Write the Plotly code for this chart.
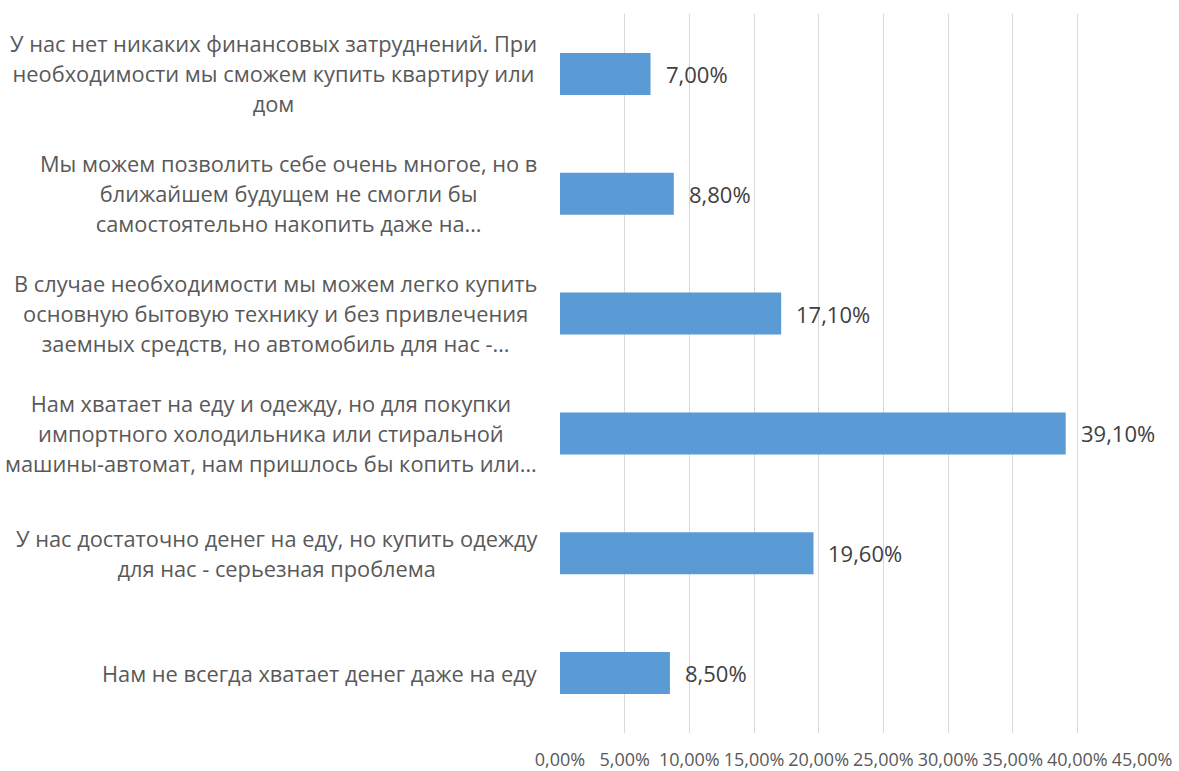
import plotly.graph_objects as go

categories = [
    "У нас нет никаких финансовых затруднений. При<br>необходимости мы сможем купить квартиру или<br>дом",
    "Мы можем позволить себе очень многое, но в<br>ближайшем будущем не смогли бы<br>самостоятельно накопить даже на…",
    "В случае необходимости мы можем легко купить<br>основную бытовую технику и без привлечения<br>заемных средств, но автомобиль для нас -…",
    "Нам хватает на еду и одежду, но для покупки<br>импортного холодильника или стиральной<br>машины-автомат, нам пришлось бы копить или…",
    "У нас достаточно денег на еду, но купить одежду<br>для нас - серьезная проблема",
    "Нам не всегда хватает денег даже на еду",
]
values = [7.00, 8.80, 17.10, 39.10, 19.60, 8.50]
ticks = [0, 5, 10, 15, 20, 25, 30, 35, 40, 45]
tick_labels = [f"{t:.2f}".replace(".", ",") + "%" for t in ticks]

FONT = "Open Sans"
ids = list(range(len(categories)))

fig = go.Figure(go.Bar(
    x=values, y=ids, orientation="h",
    marker=dict(color="#5B9BD5", line=dict(width=0)),
    width=0.35, hoverinfo="skip",
))

annotations = []
for i, (c, v) in enumerate(zip(categories, values)):
    lines = c.split("<br>")
    txt = "<br>".join(f'<span style="font-size:21.8px">{ln}</span>' for ln in lines)
    annotations.append(dict(
        x=0, y=i, xref="paper", yref="y", text=txt, showarrow=False,
        xanchor="right", yanchor="middle", align="center", xshift=-21,
        font=dict(family=FONT, size=23, color="#595959"),
    ))
    annotations.append(dict(
        x=v, y=i, xref="x", yref="y", text=f"{v:.2f}".replace(".", ",") + "%",
        showarrow=False, xanchor="left", yanchor="middle", xshift=13,
        font=dict(family=FONT, size=22, color="#404040"),
    ))

fig.update_layout(
    width=1179, height=771,
    margin=dict(l=560, r=37, t=14, b=38, pad=0),
    paper_bgcolor="white", plot_bgcolor="white",
    showlegend=False,
    annotations=annotations,
    xaxis=dict(
        range=[0, 45], tickvals=ticks, ticktext=tick_labels,
        showgrid=True, gridcolor="#D9D9D9", gridwidth=1,
        zeroline=False, showline=False, ticks="",
        tickfont=dict(family=FONT, size=18, color="#595959"),
        tickangle=0, ticklabelstandoff=14, automargin=False,
    ),
    yaxis=dict(
        type="linear", range=[len(categories) - 0.5, -0.5],
        showticklabels=False, showgrid=False, zeroline=False, showline=False,
        automargin=False,
    ),
)

fig.write_html("out.html")
